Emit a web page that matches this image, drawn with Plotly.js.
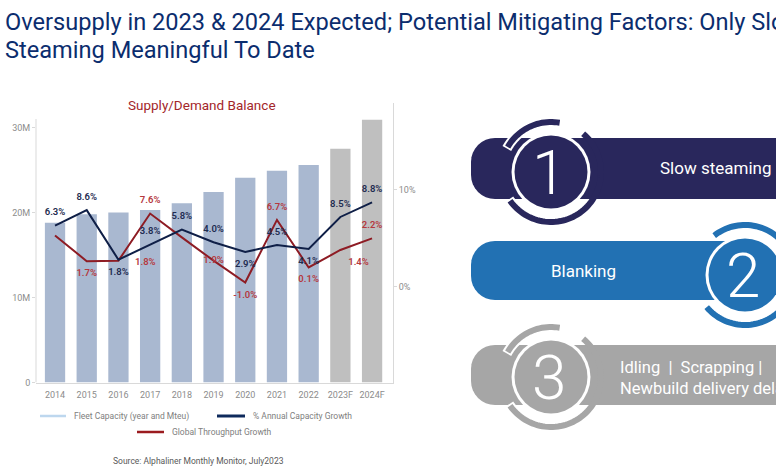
<!DOCTYPE html>
<html><head><meta charset="utf-8">
<script src="https://cdn.plot.ly/plotly-3.0.1.min.js"></script>
<style>html,body{margin:0;padding:0;background:#fff;}#chart{width:776px;height:466px;}</style>
</head><body><div id="chart"></div>
<script>
// ---------------- data ----------------
const years = ['2014','2015','2016','2017','2018','2019','2020','2021','2022','2023F','2024F'];
const fleetCapacityM = [18.8,19.8,20.0,20.3,21.1,22.4,24.1,24.9,25.6,27.5,30.9];
const capacityGrowthPct = [6.3,7.9,2.8,4.35,5.9,4.6,3.6,4.3,3.9,7.2,8.7];
const capacityGrowthLabels = ['6.3%','8.6%','1.8%','3.8%','5.8%','4.0%','2.9%','4.5%','4.1%','8.5%','8.8%'];
const throughputGrowthPct = [5.3,2.65,2.7,7.55,5.1,2.7,0.45,6.9,2.0,3.8,5.0];
const throughputGrowthLabels = ['','1.7%','1.8%','7.6%','','1.9%','-1.0%','6.7%','0.1%','1.4%','2.2%'];
const leftTickVals = [0,10,20,30];
const leftTickText = ['0','10M','20M','30M'];
const rightTickVals = [-10,0,10];
const rightTickText = ['-10%','0%','10%'];
const legendNames = ['Fleet Capacity (year and Mteu)','% Annual Capacity Growth','Global Throughput Growth'];
const factorTexts = [['Slow steaming'],['Blanking'],['Idling  |  Scrapping |','Newbuild delivery delays']];
const factorDigits = ['1','2','3'];

// ---------------- styling ----------------
const W = 776, H = 466;
const py = v => 1 - v / H;
const FONT = 'Roboto, "Open Sans", sans-serif';
const barColors = years.map(y => y.endsWith('F') ? '#BFBFBF' : '#A9B8D0');
const capPos = ['top center','top center','bottom center','top center','top center','top center','bottom center','top center','bottom center','top center','top center'];
const thrPos = ['top center','bottom center','middle right','top center','top center','middle center','bottom center','top center','bottom center','bottom right','top center'];
// one red label is drawn as a shifted annotation (it sits to the right of its point)
const SHIFTED = 2;
const thrTraceText = throughputGrowthLabels.map((t, i) => i === SHIFTED ? '' : t);

const traces = [
  {type:'bar', x:years, y:fleetCapacityM, marker:{color:barColors}, xaxis:'x', yaxis:'y', hoverinfo:'skip'},
  {type:'scatter', mode:'lines+markers+text', x:years, y:throughputGrowthPct, xaxis:'x', yaxis:'y2',
   line:{color:'#8E1C24', width:2}, marker:{size:11, color:'rgba(0,0,0,0)'},
   text:thrTraceText, textposition:thrPos,
   textfont:{family:FONT, size:9.5, color:'#B5383E', weight:600}, cliponaxis:false, hoverinfo:'skip'},
  {type:'scatter', mode:'lines+markers+text', x:years, y:capacityGrowthPct, xaxis:'x', yaxis:'y2',
   line:{color:'#0F1F47', width:2}, marker:{size:11, color:'rgba(0,0,0,0)'},
   text:capacityGrowthLabels, textposition:capPos,
   textfont:{family:FONT, size:9.5, color:'#1E2B50', weight:600}, cliponaxis:false, hoverinfo:'skip'},
  {type:'scatter', mode:'markers', x:[], y:[], xaxis:'x2', yaxis:'y3', hoverinfo:'skip'}
];

// ---------- decorative geometry helpers (pixel coords on x2/y3) ----------
function arcPath(cx, cy, r, a0, a1) {
  const n = Math.max(8, Math.ceil(Math.abs(a1 - a0) / 3));
  let s = '';
  for (let i = 0; i <= n; i++) {
    const a = (a0 + (a1 - a0) * i / n) * Math.PI / 180;
    const x = cx + r * Math.cos(a), y = cy - r * Math.sin(a);
    s += (i === 0 ? 'M' : ' L') + x.toFixed(2) + ',' + y.toFixed(2);
  }
  return s;
}
function pillPath(x0, x1, y0, y1, R) {
  const pts = [[x0 + R, y0], [x1, y0], [x1, y1], [x0 + R, y1]];
  for (let i = 1; i <= 8; i++) { const t = (90 + 90 * i / 8) * Math.PI / 180; pts.push([x0 + R + R * Math.cos(t), y1 - R + R * Math.sin(t)]); }
  pts.push([x0, y0 + R]);
  for (let i = 1; i <= 8; i++) { const t = (180 + 90 * i / 8) * Math.PI / 180; pts.push([x0 + R + R * Math.cos(t), y0 + R + R * Math.sin(t)]); }
  return 'M' + pts.map(p => p[0].toFixed(2) + ',' + p[1].toFixed(2)).join(' L') + ' Z';
}
const D = {xref:'x2', yref:'y3'};
const badges = [
  {color:'#29275C', x0:471, x1:820, y0:138, y1:199, cx:551, cy:172,
   arcs:[[80,150],[-145,50]], halos:[[100,152],[213,245]]},
  {color:'#2271B3', x0:471, x1:745, y0:241, y1:300, cx:745, cy:275,
   arcs:[[-140,128]], halos:[[100,130],[218,250]]},
  {color:'#A6A6A6', x0:471, x1:820, y0:345, y1:405, cx:551, cy:377,
   arcs:[[80,150],[-145,50]], halos:[[100,152],[213,245]]}
];
const shapes = [];
const annotations = [];
badges.forEach((b, i) => {
  shapes.push(Object.assign({type:'path', path:pillPath(b.x0, b.x1, b.y0, b.y1, 24), fillcolor:b.color, line:{width:0}}, D));
  b.halos.forEach(h => shapes.push(Object.assign({type:'path', path:arcPath(b.cx, b.cy, 50, h[0], h[1]), line:{color:'#FFFFFF', width:10}}, D)));
  b.arcs.forEach(a => shapes.push(Object.assign({type:'path', path:arcPath(b.cx, b.cy, 50, a[0], a[1]), line:{color:b.color, width:6}}, D)));
  shapes.push(Object.assign({type:'circle', x0:b.cx - 39.5, x1:b.cx + 39.5, y0:b.cy - 39.5, y1:b.cy + 39.5, fillcolor:'#FFFFFF', line:{width:0}}, D));
  shapes.push(Object.assign({type:'circle', x0:b.cx - 36.5, x1:b.cx + 36.5, y0:b.cy - 36.5, y1:b.cy + 36.5, fillcolor:b.color, line:{width:0}}, D));
  annotations.push(Object.assign({x:b.cx - 2, y:b.cy, text:factorDigits[i], showarrow:false, xanchor:'center', yanchor:'middle',
    font:{family:FONT, size:62, color:'#FFFFFF', weight:300}}, D));
});
// factor texts
annotations.push(Object.assign({x:658, y:168, text:factorTexts[0][0], showarrow:false, xanchor:'left', yanchor:'middle', font:{family:FONT, size:17, color:'#FFFFFF'}}, D));
annotations.push(Object.assign({x:583, y:271, text:factorTexts[1][0], showarrow:false, xanchor:'center', yanchor:'middle', font:{family:FONT, size:17, color:'#FFFFFF'}}, D));
annotations.push(Object.assign({x:618, y:367, text:factorTexts[2][0], showarrow:false, xanchor:'left', yanchor:'middle', font:{family:FONT, size:16.5, color:'#FFFFFF'}}, D));
annotations.push(Object.assign({x:618, y:388, text:factorTexts[2][1], showarrow:false, xanchor:'left', yanchor:'middle', font:{family:FONT, size:16.5, color:'#FFFFFF'}}, D));

// page title
annotations.push(Object.assign({x:3, y:22, text:'Oversupply in 2023 &amp; 2024 Expected; Potential Mitigating Factors: Only Slow', showarrow:false, xanchor:'left', yanchor:'middle', font:{family:FONT, size:23.6, color:'#0B2D6E'}}, D));
annotations.push(Object.assign({x:3, y:50, text:'Steaming Meaningful To Date', showarrow:false, xanchor:'left', yanchor:'middle', font:{family:FONT, size:23.6, color:'#0B2D6E'}}, D));
// chart title
annotations.push(Object.assign({x:201.5, y:105, text:'Supply/Demand Balance', showarrow:false, xanchor:'center', yanchor:'middle', font:{family:FONT, size:13.5, color:'#A3262A'}}, D));
// shifted red data label (category index on the x axis)
annotations.push({xref:'x', yref:'y2', x:SHIFTED, y:throughputGrowthPct[SHIFTED], text:throughputGrowthLabels[SHIFTED],
  showarrow:false, xanchor:'center', yanchor:'middle', xshift:27, yshift:-1,
  font:{family:FONT, size:9.5, color:'#B5383E', weight:600}});
// legend
const legendItems = [
  {x0:40, x1:66, y:416, color:'#BDD7EE', w:2.5, name:legendNames[0]},
  {x0:217, x1:245, y:416, color:'#0E2A5C', w:3, name:legendNames[1]},
  {x0:137, x1:164, y:432, color:'#9B1B1F', w:2.5, name:legendNames[2]}
];
legendItems.forEach(l => {
  shapes.push(Object.assign({type:'line', x0:l.x0, x1:l.x1, y0:l.y, y1:l.y, line:{color:l.color, width:l.w}}, D));
  annotations.push(Object.assign({x:l.x1 + 6, y:l.y, text:l.name, showarrow:false, xanchor:'left', yanchor:'middle', font:{family:FONT, size:8.5, color:'#808080'}}, D));
});
// source & page number
annotations.push(Object.assign({x:198, y:461, text:'Source: Alphaliner Monthly Monitor, July2023', showarrow:false, xanchor:'center', yanchor:'middle', font:{family:FONT, size:8.5, color:'#595959'}}, D));
annotations.push(Object.assign({x:-4, y:463, text:'12', showarrow:false, xanchor:'left', yanchor:'middle', font:{family:FONT, size:11, color:'#0B2D6E'}}, D));
// left axis line
shapes.push({type:'line', xref:'x domain', yref:'y', x0:0, x1:0, y0:0, y1:31, line:{color:'#D9D9D9', width:1}});

const layout = {
  width:W, height:H, margin:{l:0, r:0, t:0, b:0},
  paper_bgcolor:'#FFFFFF', plot_bgcolor:'rgba(0,0,0,0)', showlegend:false,
  font:{family:FONT, color:'#8C8C8C'},
  bargap:0.36,
  xaxis:{domain:[36 / W, 393 / W], type:'category', range:[-0.6, 10.66], anchor:'y',
    showline:true, linecolor:'#D9D9D9', linewidth:1, ticks:'', showgrid:false, zeroline:false,
    ticklabelstandoff:4, tickfont:{size:9, color:'#8C8C8C'}, fixedrange:true},
  yaxis:{domain:[py(382.5), py(103)], range:[0, 32.88], anchor:'x', tickvals:leftTickVals, ticktext:leftTickText,
    ticks:'outside', ticklen:3, tickcolor:'#D9D9D9', showline:false, showgrid:false, zeroline:false,
    tickfont:{size:9, color:'#8C8C8C'}, fixedrange:true},
  yaxis2:{overlaying:'y', side:'right', anchor:'x', range:[-9.84, 18.93], tickvals:rightTickVals, ticktext:rightTickText,
    ticks:'outside', ticklen:3, tickcolor:'#D9D9D9', showline:true, linecolor:'#D9D9D9', linewidth:1,
    showgrid:false, zeroline:false, tickfont:{size:9, color:'#8C8C8C'}, fixedrange:true},
  xaxis2:{domain:[0, 1], range:[0, W], visible:false, anchor:'y3', fixedrange:true},
  yaxis3:{domain:[0, 1], range:[H, 0], visible:false, anchor:'x2', fixedrange:true},
  shapes:shapes, annotations:annotations
};
Plotly.newPlot('chart', traces, layout, {staticPlot:true, displayModeBar:false});
</script></body></html>
